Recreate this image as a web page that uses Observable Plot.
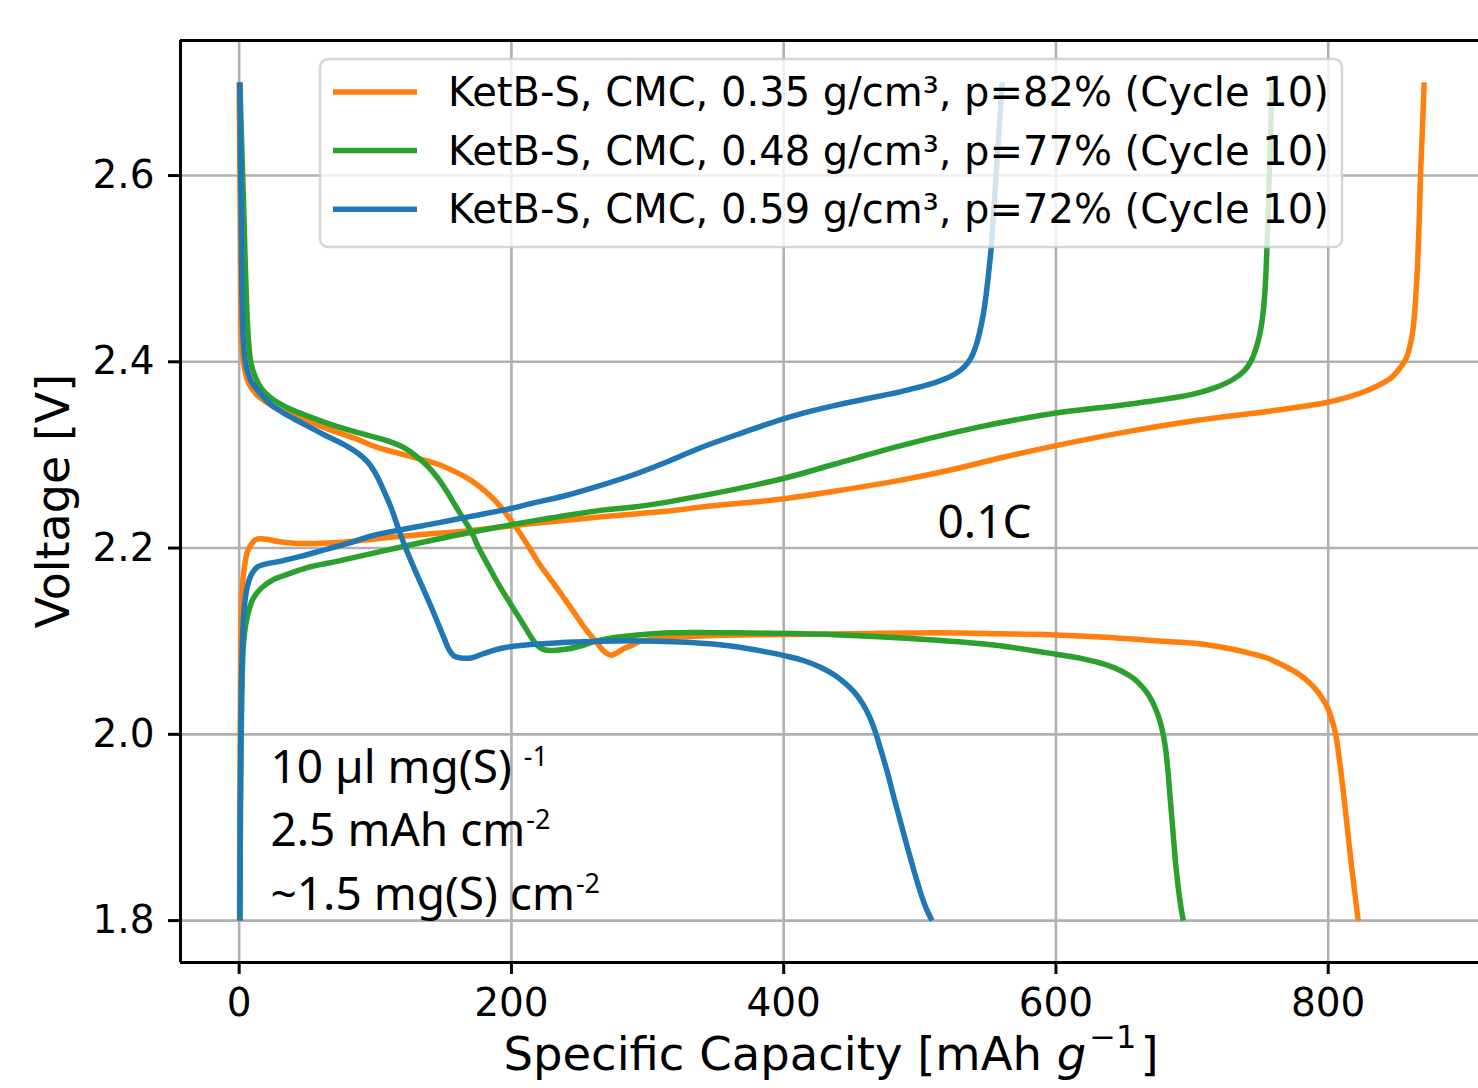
<!DOCTYPE html>
<html>
<head>
<meta charset="utf-8">
<script src="https://cdn.jsdelivr.net/npm/d3@7"></script>
<script src="https://cdn.jsdelivr.net/npm/@observablehq/plot@0.6"></script>
<style>
  html, body { margin: 0; padding: 0; background: #ffffff; }
  #chart svg { display: block; }
</style>
</head>
<body>
<div id="chart"></div>
<script>
// ---------------- data ----------------
const seriesLabels = [
  "KetB-S, CMC, 0.35 g/cm³, p=82% (Cycle 10)",
  "KetB-S, CMC, 0.48 g/cm³, p=77% (Cycle 10)",
  "KetB-S, CMC, 0.59 g/cm³, p=72% (Cycle 10)"
];
const seriesColors = ["#ff7f0e", "#2ca02c", "#1f77b4"];

// [specific capacity (mAh/g), voltage (V)]
const orangeDischarge = [[0,2.70],[0.8,2.55],[1.5,2.433],[3,2.40],[6.4,2.379],[12,2.366],[18.6,2.358],[30,2.348],[48,2.338],[65,2.328],[84.7,2.318],[100,2.309],[121.4,2.300],[146,2.290],[160,2.281],[170,2.273],[180,2.262],[188,2.251],[196,2.237],[204,2.221],[212,2.203],[220,2.184],[230,2.164],[244,2.135],[255,2.112],[263.5,2.097],[268,2.089],[273.3,2.085],[278,2.088],[282.5,2.092],[289,2.096],[295,2.100],[317.4,2.104],[350,2.106],[389.3,2.107],[450,2.108],[513.1,2.109],[560,2.108],[595.6,2.107],[640,2.104],[678,2.100],[700,2.098],[720,2.094],[740,2.088],[755,2.082],[767,2.074],[777,2.066],[785,2.057],[791,2.048],[796,2.038],[800,2.027],[803,2.014],[805.5,2.0],[808,1.975],[811,1.94],[814,1.90],[817,1.86],[819.5,1.83],[822,1.80]];
const orangeCharge = [[0.3,1.80],[0.6,1.95],[1,2.06],[1.5,2.129],[2.5,2.16],[3.9,2.180],[6,2.196],[8.8,2.204],[12,2.209],[16.2,2.210],[22,2.209],[28.4,2.207],[43.1,2.205],[72.5,2.206],[121.4,2.213],[170.4,2.219],[219.4,2.227],[268.4,2.234],[317.4,2.240],[339.4,2.244],[400.4,2.253],[437.1,2.261],[486.3,2.273],[520,2.283],[559.8,2.297],[600,2.310],[648.7,2.324],[703,2.337],[757.1,2.347],[797.7,2.356],[812,2.361],[824.8,2.367],[836,2.374],[846.4,2.383],[852,2.392],[857.3,2.404],[860.5,2.420],[862.7,2.440],[864.3,2.47],[865.5,2.50],[866.8,2.55],[867.8,2.60],[869.2,2.65],[870.5,2.70]];

const greenDischarge = [[0.5,2.70],[3,2.58],[6.4,2.433],[8.5,2.40],[11.2,2.386],[16,2.372],[23.5,2.361],[35,2.351],[48,2.343],[65,2.334],[84.7,2.325],[109.2,2.315],[122,2.307],[131.3,2.297],[139,2.287],[146,2.275],[152,2.262],[158.2,2.247],[164,2.233],[170.4,2.218],[176,2.200],[182.7,2.182],[191,2.160],[199.8,2.139],[210,2.115],[216,2.101],[219.4,2.095],[224,2.091],[229.2,2.090],[238,2.091],[248.8,2.094],[262,2.100],[275.7,2.104],[295,2.107],[317.4,2.109],[363.6,2.109],[437.1,2.107],[513.1,2.101],[554.3,2.096],[600,2.086],[620,2.081],[636,2.075],[648,2.068],[657,2.060],[664,2.050],[669,2.040],[673,2.028],[676,2.016],[678.5,2.002],[680.5,1.985],[682.3,1.96],[684,1.93],[686,1.895],[688,1.86],[690.3,1.83],[692.3,1.81],[693.6,1.80]];
const greenCharge = [[0.5,1.80],[1,1.92],[1.5,2.00],[2.2,2.06],[3,2.093],[4.5,2.115],[6.4,2.129],[10,2.145],[16.2,2.157],[25,2.166],[35.8,2.172],[50,2.179],[72.5,2.186],[121.4,2.202],[170.4,2.217],[219.4,2.230],[268.4,2.241],[290,2.244],[339.4,2.256],[400.4,2.275],[437.1,2.290],[486.3,2.310],[540.5,2.329],[600,2.345],[640,2.352],[675.8,2.359],[700,2.365],[716.5,2.372],[730,2.381],[738.1,2.390],[743,2.400],[746.2,2.411],[749.5,2.428],[751.7,2.447],[753.5,2.475],[754.6,2.507],[755.7,2.55],[756.7,2.60],[757.8,2.65],[758.8,2.70]];

const blueDischarge = [[0.5,2.70],[1.5,2.55],[2.7,2.433],[4.5,2.400],[6.5,2.388],[8.8,2.379],[15,2.367],[23.5,2.354],[35,2.343],[47.7,2.333],[62,2.322],[77,2.311],[87,2.302],[94,2.293],[99,2.283],[103,2.272],[107,2.259],[111.7,2.243],[116,2.225],[121.2,2.204],[128,2.180],[135.9,2.154],[143,2.130],[150.6,2.103],[154.5,2.090],[157.9,2.084],[163,2.082],[170.4,2.082],[180,2.087],[194.7,2.093],[219.6,2.097],[265.9,2.100],[307,2.100],[348,2.097],[370,2.093],[389,2.088],[402,2.084],[415,2.079],[427,2.072],[437,2.064],[445,2.055],[452,2.045],[458,2.033],[463,2.019],[467,2.004],[471,1.985],[476,1.96],[481,1.932],[486,1.905],[491,1.878],[496,1.852],[501,1.828],[505,1.812],[509,1.80]];
const blueCharge = [[0.5,1.80],[0.9,1.95],[1.5,2.04],[2.7,2.111],[4,2.140],[6.4,2.161],[9.5,2.173],[13.7,2.180],[20,2.183],[30.9,2.186],[45,2.191],[60.2,2.197],[80,2.205],[97,2.213],[120,2.220],[146,2.227],[170,2.234],[194.9,2.241],[218,2.249],[241.5,2.257],[265,2.267],[290.2,2.279],[315,2.293],[339.4,2.308],[370,2.324],[400.4,2.339],[420,2.347],[437.1,2.353],[460,2.360],[486.3,2.368],[500,2.373],[510,2.377],[519,2.382],[527,2.388],[533,2.395],[537.5,2.404],[541,2.416],[544,2.432],[546.5,2.450],[548.7,2.472],[550.5,2.495],[552.3,2.52],[554,2.555],[556,2.60],[558.3,2.65],[560.5,2.70]];

const xTicks = [0, 200, 400, 600, 800];
const yTicks = [1.8, 2.0, 2.2, 2.4, 2.6];
const xDomain = [-43.1, 910.4];
const yDomain = [1.755, 2.745];

const annotations = [
  {cap: 23, v: 1.948, text: "10 µl mg(S)", sup: "-1", gap: 12},
  {cap: 23, v: 1.8796, text: "2.5 mAh cm", sup: "-2", gap: 1},
  {cap: 23, v: 1.8115, text: "~1.5 mg(S) cm", sup: "-2", gap: 1}
];
const rateLabel = [{cap: 513, v: 2.2108, text: "0.1C"}];

// ---------------- build ----------------
const curves = [
  {series: 0, pts: orangeDischarge}, {series: 0, pts: orangeCharge},
  {series: 1, pts: greenDischarge},  {series: 1, pts: greenCharge},
  {series: 2, pts: blueDischarge},   {series: 2, pts: blueCharge}
];

const gridStyle = {stroke: "#b0b0b0", strokeOpacity: 1, strokeWidth: 2.6};
const lineMarks = curves.map(c =>
  Plot.line(c.pts, {x: d => d[0], y: d => d[1], stroke: seriesColors[c.series],
    strokeWidth: 5.5, curve: "catmull-rom", strokeLinejoin: "round", strokeLinecap: "butt"})
);

const baseFont = "'DejaVu Sans', sans-serif";
const annotFont = "'Noto Sans', sans-serif";

const plot = Plot.plot({
  width: 1478,
  height: 1088,
  marginLeft: 180,
  marginRight: 0,
  marginTop: 40,
  marginBottom: 126,
  style: {fontFamily: baseFont, background: "#ffffff", color: "#000000", overflow: "visible"},
  x: {domain: xDomain},
  y: {domain: yDomain},
  marks: [
    Plot.gridX(xTicks, gridStyle),
    Plot.gridY(yTicks, gridStyle),
    ...lineMarks,
    Plot.text(annotations, {x: "cap", y: "v", text: "text", textAnchor: "start", lineAnchor: "bottom", fontSize: 46, fontFamily: annotFont, fill: "#000"}),
    Plot.text(rateLabel, {x: "cap", y: "v", text: "text", textAnchor: "start", lineAnchor: "bottom", fontSize: 46, fontFamily: annotFont, fill: "#000"}),
    Plot.ruleY([yDomain[0], yDomain[1]], {stroke: "#000", strokeWidth: 3}),
    Plot.ruleX([xDomain[0]], {stroke: "#000", strokeWidth: 3}),
    Plot.axisX(xTicks, {anchor: "bottom", tickSize: 12, tickPadding: 14, fontSize: 39, strokeWidth: 3, label: null, tickFormat: d => String(d)}),
    Plot.axisY(yTicks, {anchor: "left", tickSize: 12, tickPadding: 14, fontSize: 39, strokeWidth: 3, label: null, tickFormat: d3.format(".1f")})
  ]
});

document.getElementById("chart").appendChild(plot);

const svg = d3.select(plot);

// superscripts on the annotation lines
svg.selectAll("text").each(function () {
  const t = this.textContent;
  const a = annotations.find(a => a.text === t);
  if (a) {
    d3.select(this).append("tspan").attr("dx", a.gap).attr("dy", -17)
      .attr("font-size", 27).text(a.sup);
  }
});

// axis labels
svg.append("text")
  .attr("transform", "translate(53,501) rotate(-90)")
  .attr("text-anchor", "middle")
  .attr("dominant-baseline", "central")
  .attr("font-family", baseFont)
  .attr("font-size", 46)
  .attr("fill", "#000")
  .text("Voltage [V]");

const xl = svg.append("text")
  .attr("x", 831).attr("y", 1070)
  .attr("text-anchor", "middle")
  .attr("font-family", baseFont)
  .attr("font-size", 46.5)
  .attr("fill", "#000");
xl.append("tspan").text("Specific Capacity [mAh ");
xl.append("tspan").attr("font-style", "oblique").text("g");
xl.append("tspan").attr("font-size", 32).attr("dy", -22).attr("dx", 3).text("−1");
xl.append("tspan").attr("dy", 22).attr("dx", 4).text("]");

// legend
const leg = svg.append("g").attr("text-anchor", "start");
leg.append("rect")
  .attr("x", 320).attr("y", 59).attr("width", 1022).attr("height", 188).attr("rx", 8)
  .attr("fill", "#ffffff").attr("fill-opacity", 0.8)
  .attr("stroke", "#cccccc").attr("stroke-opacity", 0.8).attr("stroke-width", 2.5);
seriesLabels.forEach((lab, i) => {
  const ly = 92 + i * 58.6;
  leg.append("line").attr("x1", 333).attr("x2", 417).attr("y1", ly).attr("y2", ly)
    .attr("stroke", seriesColors[i]).attr("stroke-width", 5.5);
  leg.append("text").attr("x", 448).attr("y", ly + 14)
    .attr("text-anchor", "start")
    .attr("font-family", baseFont).attr("font-size", 40)
    .attr("fill", "#000").text(lab);
});
</script>
</body>
</html>
